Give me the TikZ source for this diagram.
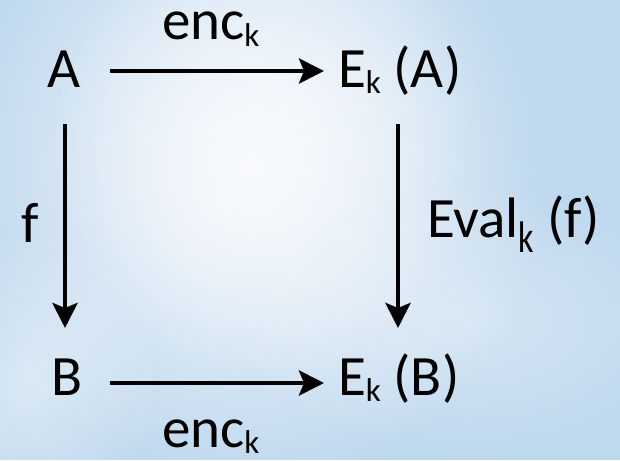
\documentclass[tikz,border=0pt]{standalone}
\usepackage{fontspec}
\setmainfont{Carlito}
\usetikzlibrary{arrows.meta,fadings}
\definecolor{skyblue}{RGB}{190,216,238}
\definecolor{cloud}{RGB}{248,250,253}
\tikzfading[name=puffy, inner color=transparent!0, outer color=transparent!100]
\newcommand{\subk}{\raisebox{-6pt}{\fontsize{33}{34}\selectfont k}}
\newcommand{\subkk}{\raisebox{-15pt}{\scalebox{1}[1.3]{\fontsize{34}{34}\selectfont k}}}
\tikzset{
  lbl/.style={inner sep=0pt, outer sep=0pt, anchor=base west, font=\fontsize{57}{64}\selectfont},
  enclbl/.style={lbl, text height=28pt, text depth=8pt},
  arr/.style={line width=4.6pt, -{Stealth[length=25pt,width=25pt,inset=5pt]}},
  puff/.style={fill=cloud, path fading=puffy}
}
\begin{document}
\begin{tikzpicture}[x=1pt,y=-1pt]
\useasboundingbox (0,0) rectangle (620,460);
\fill[skyblue] (0,0) rectangle (620,460);
\begin{scope}
\clip (0,0) rectangle (620,460);
\fill[puff, fill opacity=1] (250,170) ellipse (300 and 320);
\fill[puff, fill opacity=0.8] (270,140) ellipse (220 and 240);
\fill[puff, fill opacity=0.5] (30,380) ellipse (130 and 150);
\fill[puff, fill opacity=0.4] (470,320) ellipse (240 and 140);
\end{scope}
\node[lbl] (A) at (47,87) {A};
\node[lbl] (EA) at (338,87) {E\subk\ (A)};
\node[lbl] (B) at (51,395) {B};
\node[lbl] (EB) at (338,395) {E\subk\ (B)};
\node[enclbl] (enc1) at (162,40) {enc\subk};
\node[enclbl] (enc2) at (162,447) {enc\subk};
\node[lbl] (f) at (21,242) {f};
\node[lbl] (eval) at (427,237) {Eval\subkk\ (f)};
\coordinate (a1) at (110,71);
\coordinate (a2) at (324,71);
\draw[arr] (a1) -- (a2);
\coordinate (b1) at (110,383);
\coordinate (b2) at (324,383);
\draw[arr] (b1) -- (b2);
\coordinate (l1) at (65,124);
\coordinate (l2) at (65,328);
\draw[arr] (l1) -- (l2);
\coordinate (r1) at (398,124);
\coordinate (r2) at (398,328);
\draw[arr] (r1) -- (r2);
\end{tikzpicture}
\end{document}
